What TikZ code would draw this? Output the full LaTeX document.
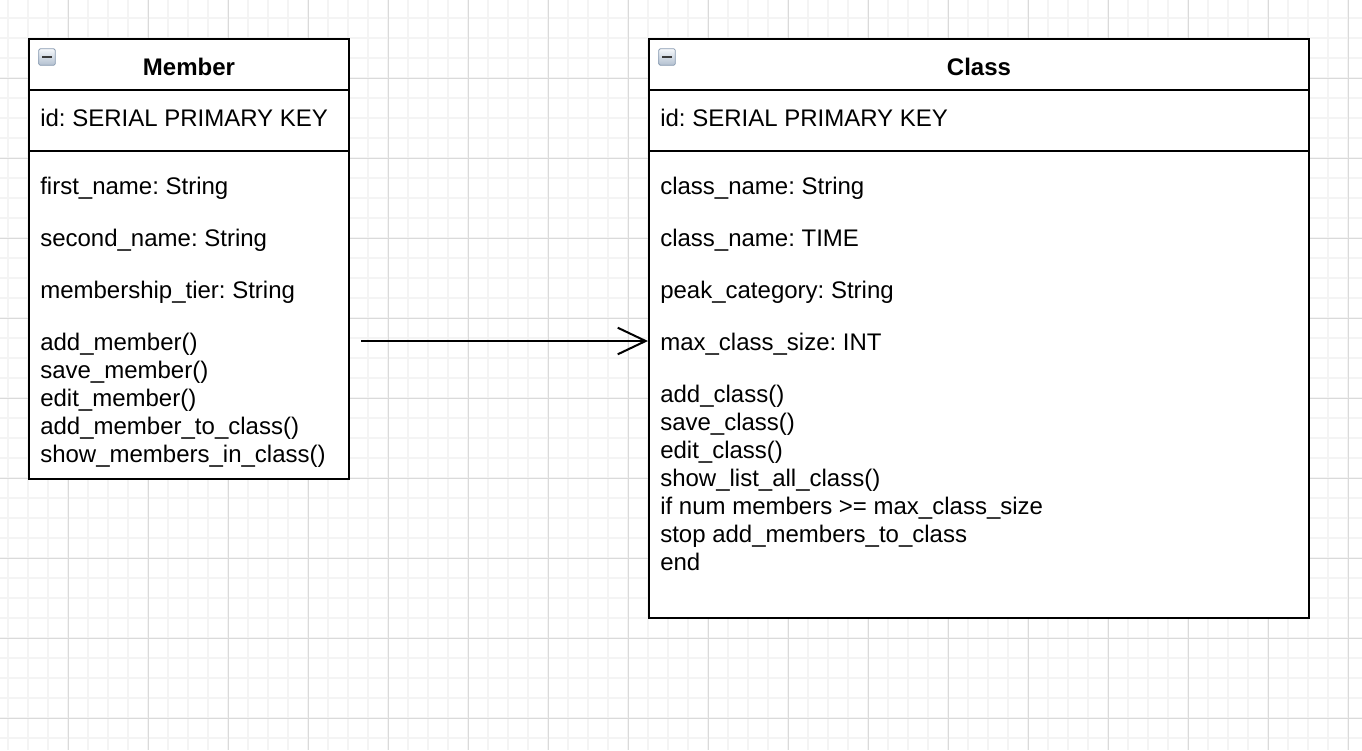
\documentclass[tikz,border=0pt]{standalone}
\usepackage{fontspec}
\setmainfont{Liberation Sans}
\frenchspacing
\usetikzlibrary{
    arrows.meta,
    positioning
}
\definecolor{gridminor}{HTML}{F4F4F4}
\definecolor{gridmajor}{HTML}{DADADA}
\definecolor{iconedge}{HTML}{8A9CB2}
\definecolor{icontop}{HTML}{F6F8FB}
\definecolor{iconbot}{HTML}{B2C0D0}
\definecolor{iconbar}{HTML}{3A3A3A}

\begin{document}
\begin{tikzpicture}[
    x=0.75pt, y=-0.75pt,
    font=\fontsize{18}{21}\selectfont,
    umlbox/.style={
        draw, line width=1.5pt, fill=white, inner sep=0pt
    },
    umltitle/.style={
        inner sep=0pt, anchor=base,
        font=\fontsize{18}{21}\selectfont\bfseries
    },
    row/.style={
        inner sep=0pt, anchor=base west,
        text height=13pt, text depth=4pt
    },
    sep/.style={line width=1.5pt},
    icon/.style={
        draw=iconedge, line width=0.6pt, rounded corners=1.2pt,
        top color=icontop, bottom color=iconbot,
        minimum size=12.5pt, inner sep=0pt
    },
    iconminus/.style={iconbar, line width=2pt},
    assoc/.style={-{Straight Barb[length=21pt, width=20pt]}, line width=1.5pt},
]

% ── Canvas and grid ──
\fill[white] (0,0) rectangle (1362,750);
\useasboundingbox (0,0) rectangle (1362,750);
\foreach \gx in {8,28,...,1362}
    \draw[gridminor, line width=1.5pt] (\gx,0) -- (\gx,750);
\foreach \gy in {18,38,...,750}
    \draw[gridminor, line width=1.5pt] (0,\gy) -- (1362,\gy);
\foreach \gx in {68,148,...,1362}
    \draw[gridmajor, line width=0.75pt] (\gx,0) -- (\gx,750);
\foreach \gy in {78,158,...,750}
    \draw[gridmajor, line width=0.75pt] (0,\gy) -- (1362,\gy);

% ── Member table ──
\node[umlbox, minimum width=240pt, minimum height=330pt] (member) at (189,259) {};
\node[icon] (memicon) at (47,57) {};
\draw[iconminus] ([xshift=-3.6pt]memicon.center) -- ([xshift=3.6pt]memicon.center);
\node[umltitle] (memtitle) at (189,75) {Member};

\coordinate (msep1) at (29,90);
\coordinate (msep2) at (29,151);
\draw[sep] (member.west |- msep1) -- (member.east |- msep1);
\draw[sep] (member.west |- msep2) -- (member.east |- msep2);

\node[row] (memid) at (40,126) {id: SERIAL PRIMARY KEY};

% attributes
\node[row] (mfirst) at (40,194) {first\_name: String};
\node[row, below=21.6pt of mfirst.south west, anchor=north west] (msecond) {second\_name: String};
\node[row, below=21.6pt of msecond.south west, anchor=north west] (mtier) {membership\_tier: String};

% methods
\node[row, below=21.6pt of mtier.south west, anchor=north west] (madd) {add\_member()};
\node[row, below=3.6pt of madd.south west, anchor=north west] (msave) {save\_member()};
\node[row, below=3.6pt of msave.south west, anchor=north west] (medit) {edit\_member()};
\node[row, below=3.6pt of medit.south west, anchor=north west] (mtoclass) {add\_member\_to\_class()};
\node[row, below=3.6pt of mtoclass.south west, anchor=north west] (mshow) {show\_members\_in\_class()};

% ── Class table ──
\node[umlbox, minimum width=495pt, minimum height=434.25pt] (cls) at (979,328.5) {};
\node[icon] (clsicon) at (667,57) {};
\draw[iconminus] ([xshift=-3.6pt]clsicon.center) -- ([xshift=3.6pt]clsicon.center);
\node[umltitle] (clstitle) at (979,75) {Class};

\coordinate (csep1) at (649,90);
\coordinate (csep2) at (649,151);
\draw[sep] (cls.west |- csep1) -- (cls.east |- csep1);
\draw[sep] (cls.west |- csep2) -- (cls.east |- csep2);

\node[row] (clsid) at (660,126) {id: SERIAL PRIMARY KEY};

% attributes
\node[row] (cname) at (660,194) {class\_name: String};
\node[row, below=21.6pt of cname.south west, anchor=north west] (ctime) {class\_name: TIME};
\node[row, below=21.6pt of ctime.south west, anchor=north west] (cpeak) {peak\_category: String};
\node[row, below=21.6pt of cpeak.south west, anchor=north west] (cmax) {max\_class\_size: INT};

% methods
\node[row, below=21.6pt of cmax.south west, anchor=north west] (cadd) {add\_class()};
\node[row, below=3.6pt of cadd.south west, anchor=north west] (csave) {save\_class()};
\node[row, below=3.6pt of csave.south west, anchor=north west] (cedit) {edit\_class()};
\node[row, below=3.6pt of cedit.south west, anchor=north west] (clist) {show\_list\_all\_class()};
\node[row, below=3.6pt of clist.south west, anchor=north west] (cif) {if num members >= max\_class\_size};
\node[row, below=3.6pt of cif.south west, anchor=north west] (cstop) {stop add\_members\_to\_class};
\node[row, below=3.6pt of cstop.south west, anchor=north west] (cend) {end};

% ── Association ──
\coordinate (assocstart) at (361,341);
\draw[assoc] (assocstart) -- (cls.west |- assocstart);

\end{tikzpicture}
\end{document}
